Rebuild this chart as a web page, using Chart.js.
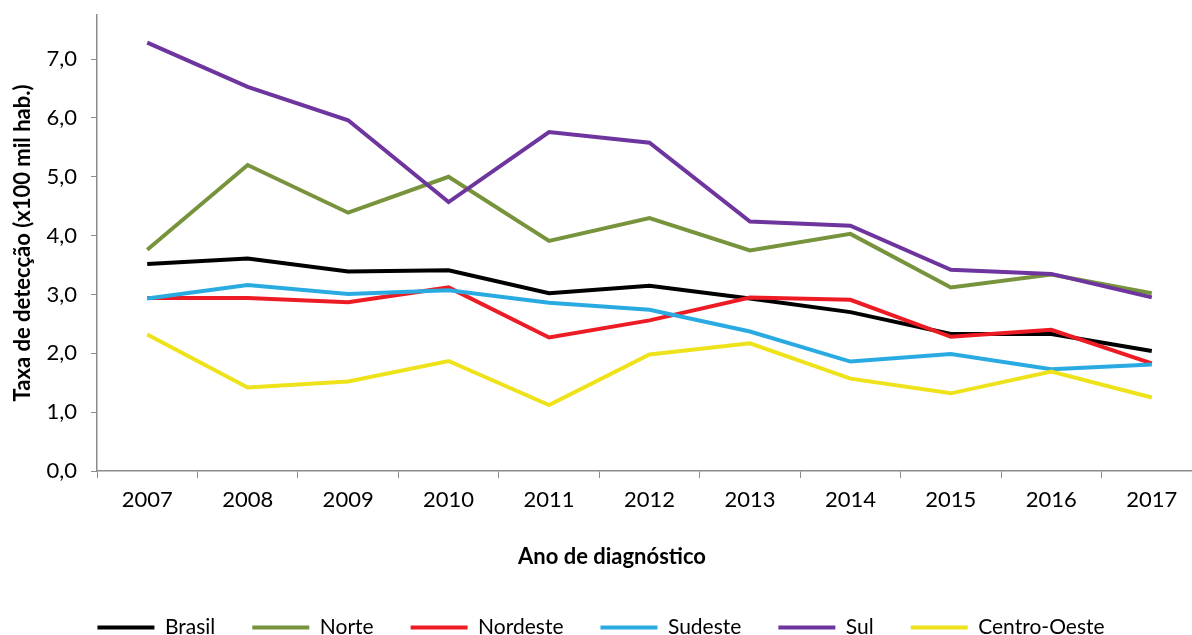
<!DOCTYPE html>
<html>
<head>
    <meta charset="utf-8">
    <title>Taxa de detecção por região</title>
    <script src="https://cdn.jsdelivr.net/npm/chart.js"></script>
    <style>
        body { margin: 0; overflow: hidden; background: #fff; }
    </style>
</head>
<body>

<canvas id="taxaChart" width="1202" height="648"></canvas>

<script>
    // anos de diagnóstico
    const anos = ['2007', '2008', '2009', '2010', '2011', '2012', '2013', '2014', '2015', '2016', '2017'];

    // taxas por 100 mil hab.
    const brasil      = [3.52, 3.61, 3.39, 3.41, 3.02, 3.15, 2.93, 2.70, 2.33, 2.33, 2.04];
    const norte       = [3.76, 5.20, 4.39, 5.00, 3.91, 4.30, 3.75, 4.03, 3.12, 3.34, 3.02];
    const nordeste    = [2.94, 2.94, 2.87, 3.12, 2.27, 2.56, 2.95, 2.91, 2.28, 2.40, 1.83];
    const sudeste     = [2.93, 3.16, 3.01, 3.07, 2.86, 2.74, 2.37, 1.86, 1.99, 1.73, 1.81];
    const sul         = [7.28, 6.53, 5.96, 4.57, 5.76, 5.58, 4.24, 4.17, 3.42, 3.35, 2.95];
    const centroOeste = [2.32, 1.42, 1.52, 1.87, 1.12, 1.98, 2.17, 1.57, 1.32, 1.69, 1.25];

    const yTitle = 'Taxa de detecção (x100 mil hab.)';
    const xTitle = 'Ano de diagnóstico';

    const series = [
        { label: 'Brasil',       data: brasil,      color: '#000000' },
        { label: 'Norte',        data: norte,       color: '#77933C' },
        { label: 'Nordeste',     data: nordeste,    color: '#ED1C24' },
        { label: 'Sudeste',      data: sudeste,     color: '#29ABE2' },
        { label: 'Sul',          data: sul,         color: '#6E359E' },
        { label: 'Centro-Oeste', data: centroOeste, color: '#EEE21B' }
    ];

    const axisGray = '#8C8C8C';

    // x axis title is drawn a bit left of the plot centre, like the original
    const xTitlePlugin = {
        id: 'xTitle',
        afterDraw(chart) {
            const ctx = chart.ctx;
            ctx.save();
            ctx.font = 'bold 22px Lato';
            ctx.fillStyle = '#000';
            ctx.textAlign = 'center';
            ctx.textBaseline = 'middle';
            ctx.fillText(xTitle, 612, 557);
            ctx.restore();
        }
    };

    const ctx = document.getElementById('taxaChart').getContext('2d');
    new Chart(ctx, {
        type: 'line',
        data: {
            labels: anos,
            datasets: series.map((s, i) => ({
                label: s.label,
                data: s.data,
                borderColor: s.color,
                backgroundColor: s.color,
                borderWidth: 4,
                pointRadius: 0,
                tension: 0,
                order: series.length - i // later series drawn on top
            }))
        },
        options: {
            responsive: false,
            animation: false,
            layout: { padding: { top: 15, left: 0, right: 0, bottom: 0 } },
            plugins: {
                tooltip: { enabled: false },
                legend: {
                    position: 'bottom',
                    labels: {
                        color: '#000',
                        font: { family: 'Lato', size: 21 },
                        boxWidth: 57,
                        boxHeight: 4,
                        padding: 37,
                        sort: (a, b) => a.datasetIndex - b.datasetIndex,
                        generateLabels: chart => Chart.defaults.plugins.legend.labels.generateLabels(chart)
                            .map(l => ({ ...l, lineWidth: 0 }))
                    }
                }
            },
            scales: {
                x: {
                    offset: true,
                    grid: {
                        offset: true,
                        drawOnChartArea: false,
                        color: axisGray,
                        tickLength: 7
                    },
                    border: { color: axisGray, width: 1.5 },
                    ticks: {
                        color: '#000',
                        padding: 9,
                        font: { family: 'Lato', size: 22 }
                    },
                    afterFit: scale => { scale.height = 109; }
                },
                y: {
                    min: 0,
                    max: 7.75,
                    grid: {
                        drawOnChartArea: false,
                        color: axisGray,
                        tickLength: 6
                    },
                    border: { color: axisGray, width: 1.5 },
                    ticks: {
                        stepSize: 1,
                        color: '#000',
                        padding: 14,
                        font: { family: 'Lato', size: 22 },
                        callback: v => v.toFixed(1).replace('.', ',')
                    },
                    afterBuildTicks: scale => {
                        scale.ticks = scale.ticks.filter(t => Number.isInteger(t.value));
                    },
                    title: {
                        display: true,
                        text: yTitle,
                        color: '#000',
                        font: { family: 'Lato', size: 22, weight: 'bold' },
                        padding: { top: 10, bottom: 0 }
                    },
                    afterFit: scale => {
                        scale.width = 97;
                        scale.paddingTop = 0;
                        scale.paddingBottom = 0;
                    }
                }
            }
        },
        plugins: [xTitlePlugin]
    });
</script>

</body>
</html>
